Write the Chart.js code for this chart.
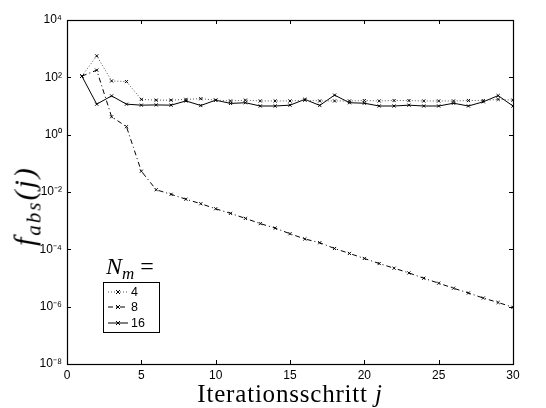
<!DOCTYPE html>
<html lang="de">
<head>
    <meta charset="UTF-8">
    <title>f_abs(j) vs. Iterationsschritt</title>
    <script src="https://cdn.jsdelivr.net/npm/chart.js"></script>
    <style>
        body { margin: 0; background: #fff; }
        .wrap { position: relative; width: 546px; height: 408px; background: #fff; }
        canvas { position: absolute; left: 0; top: 0; }
        .xtitle {
            position: absolute; left: 67px; width: 446px; top: 381px;
            text-align: center; font-family: 'Liberation Serif', serif; font-size: 25px;
            letter-spacing: 0.8px; line-height: 26px; color: #000;
        }
        .ytitle {
            position: absolute; left: 27px; top: 206px; transform: translate(-50%, -50%) rotate(-90deg);
            font-family: 'Liberation Serif', serif; font-size: 30px; font-style: italic;
            letter-spacing: 2px; white-space: nowrap; color: #000;
        }
        .ytitle sub { font-size: 21px; vertical-align: -6px; }
        .nm {
            position: absolute; left: 106px; top: 253px;
            font-family: 'Liberation Serif', serif; font-size: 24px; color: #000; white-space: nowrap;
        }
        .nm sub { font-size: 17px; vertical-align: -5px; font-style: italic; }
        .legend {
            position: absolute; left: 103px; top: 282px; width: 57px; height: 51px;
            border: 1px solid #000; box-sizing: border-box;
            font-family: 'Liberation Sans', Arial, sans-serif; font-size: 12.5px; color: #000;
        }
        .row { position: absolute; left: 4px; height: 15px; display: flex; align-items: center; }
        .row svg { display: block; }
        .row span { margin-left: 3px; }
    </style>
</head>
<body>
<div class="wrap">
    <canvas id="chart" width="546" height="408"></canvas>
    <div class="xtitle">Iterationsschritt <i>j</i></div>
    <div class="ytitle">f<sub>abs</sub>(j)</div>
    <div class="nm"><i>N</i><sub>m</sub> =</div>
    <div class="legend" id="legend"></div>
</div>

<script>
    // Daten
    const iterations = [1, 2, 3, 4, 5, 6, 7, 8, 9, 10, 11, 12, 13, 14, 15, 16, 17, 18, 19, 20,
                        21, 22, 23, 24, 25, 26, 27, 28, 29, 30];
    const fabs4 = [110, 560, 75, 71, 17, 16, 16, 17, 18, 16, 15, 16, 15, 15, 15, 16, 15, 15, 15, 15.5,
                   15, 15.5, 15.5, 15, 15, 15, 15.5, 15.5, 17, 16];
    const fabs8 = [110, 178, 4.2, 1.9, 0.053, 0.012, 8.3e-3, 5.6e-3, 3.9e-3, 2.6e-3,
                   1.8e-3, 1.2e-3, 7.9e-4, 5.5e-4, 3.5e-4, 2.3e-4, 1.7e-4, 1.07e-4, 7.2e-5, 4.8e-5,
                   3.2e-5, 2.2e-5, 1.5e-5, 9.8e-6, 6.6e-6, 4.4e-6, 3.0e-6, 2.0e-6, 1.4e-6, 9.5e-7];
    const fabs16 = [110, 11.6, 22.5, 11.6, 10.7, 10.9, 10.7, 15, 10.4, 16, 12.3, 13, 10, 10, 10.7, 17, 10.5, 24, 13, 12.5,
                    10, 10, 10.7, 10, 10, 12.5, 10, 14, 23, 10];

    const xTicks = [0, 5, 10, 15, 20, 25, 30];
    const yTicks = [1e-8, 1e-6, 1e-4, 1e-2, 1e0, 1e2, 1e4];
    const legendLabels = ['4', '8', '16'];

    const styles = [
        { color: '#555', dash: [1, 2] },
        { color: '#000', dash: [5, 3, 1, 3] },
        { color: '#000', dash: [] }
    ];

    const supDigits = { '0': '⁰', '1': '¹', '2': '²', '3': '³', '4': '⁴', '5': '⁵', '6': '⁶', '7': '⁷', '8': '⁸', '9': '⁹', '-': '⁻' };
    function pow10Label(v) {
        const e = Math.round(Math.log10(v));
        return '10' + String(e).split('').map(c => supDigits[c]).join('');
    }

    function series(values) {
        return values.map((v, i) => ({ x: iterations[i], y: v }));
    }

    // Rahmen + Ticks nach innen (MATLAB-Stil)
    const boxPlugin = {
        id: 'box',
        afterDraw(chart) {
            const { ctx, chartArea: a, scales } = chart;
            ctx.save();
            ctx.strokeStyle = '#000';
            ctx.lineWidth = 1;
            ctx.beginPath();
            const tl = 4;
            xTicks.forEach(t => {
                const px = Math.round(scales.x.getPixelForValue(t)) + 0.5;
                ctx.moveTo(px, a.bottom); ctx.lineTo(px, a.bottom - tl);
                ctx.moveTo(px, a.top); ctx.lineTo(px, a.top + tl);
            });
            yTicks.forEach(t => {
                const py = Math.round(scales.y.getPixelForValue(t)) + 0.5;
                ctx.moveTo(a.left, py); ctx.lineTo(a.left + tl, py);
                ctx.moveTo(a.right, py); ctx.lineTo(a.right - tl, py);
            });
            ctx.stroke();
            ctx.lineWidth = 1.2;
            ctx.strokeRect(Math.round(a.left) + 0.5, Math.round(a.top) + 0.5,
                Math.round(a.right - a.left), Math.round(a.bottom - a.top));
            ctx.restore();
        }
    };

    const ctx = document.getElementById('chart').getContext('2d');
    new Chart(ctx, {
        type: 'line',
        data: {
            datasets: [fabs4, fabs8, fabs16].map((vals, i) => ({
                label: legendLabels[i],
                data: series(vals),
                borderColor: styles[i].color,
                borderDash: styles[i].dash,
                borderWidth: 1,
                pointStyle: 'crossRot',
                pointRadius: 2.2,
                pointBorderWidth: 1,
                pointBorderColor: '#000',
                pointBackgroundColor: '#000',
                tension: 0,
                fill: false
            }))
        },
        options: {
            responsive: false,
            animation: false,
            layout: { padding: { left: 0, right: 33, top: 20, bottom: 0 } },
            plugins: { legend: { display: false }, tooltip: { enabled: false } },
            scales: {
                x: {
                    type: 'linear', min: 0, max: 30,
                    grid: { display: false, drawTicks: false },
                    border: { display: false },
                    afterBuildTicks: s => { s.ticks = xTicks.map(v => ({ value: v })); },
                    afterFit: s => { s.height = 44; },
                    ticks: {
                        padding: 4, color: '#000', maxRotation: 0,
                        font: { family: 'Liberation Sans', size: 12 }
                    }
                },
                y: {
                    type: 'logarithmic', min: 1e-8, max: 1e4,
                    grid: { display: false, drawTicks: false },
                    border: { display: false },
                    afterBuildTicks: s => { s.ticks = yTicks.map(v => ({ value: v })); },
                    afterFit: s => { s.width = 67; },
                    ticks: {
                        padding: 5, color: '#000',
                        font: { family: 'Liberation Sans', size: 12 },
                        callback: v => pow10Label(v)
                    }
                }
            }
        },
        plugins: [boxPlugin]
    });

    // Legende (HTML)
    const legend = document.getElementById('legend');
    legendLabels.forEach((lab, i) => {
        const row = document.createElement('div');
        row.className = 'row';
        row.style.top = (1 + i * 15.5) + 'px';
        const dash = styles[i].dash.join(',');
        row.innerHTML =
            '<svg width="20" height="10"><line x1="0" y1="5" x2="20" y2="5" stroke="' + styles[i].color +
            '" stroke-width="1"' + (dash ? ' stroke-dasharray="' + dash + '"' : '') + '/>' +
            '<path d="M8 3 L12 7 M12 3 L8 7" stroke="#000" stroke-width="1"/></svg><span>' + lab + '</span>';
        legend.appendChild(row);
    });
</script>
</body>
</html>
